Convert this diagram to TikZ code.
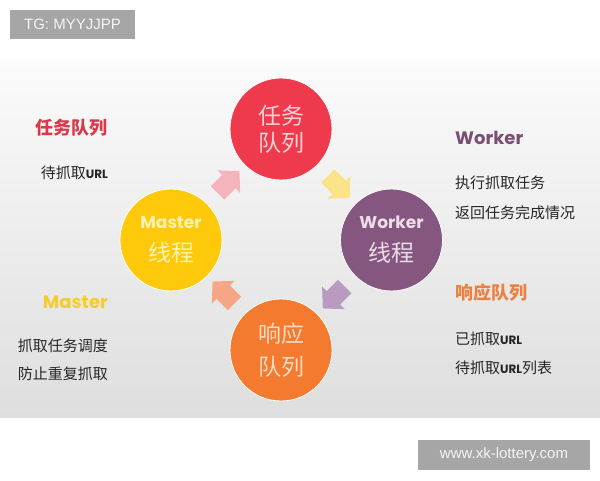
\documentclass[tikz,border=0pt]{standalone}
\usepackage{fontspec}
\setmainfont{Noto Sans CJK SC}
\newfontfamily\geo{Poppins}
\newfontfamily\lib{Liberation Sans}
\usetikzlibrary{calc}
\definecolor{cRed}{HTML}{EE3A4C}
\definecolor{cYel}{HTML}{FDC90A}
\definecolor{cPur}{HTML}{85567F}
\definecolor{cOra}{HTML}{F47A30}
\definecolor{tRed}{HTML}{FAD3D7}
\definecolor{tYel}{HTML}{FFF2B0}
\definecolor{tPur}{HTML}{EBDDE9}
\definecolor{tOra}{HTML}{FDDCC2}
\definecolor{aPink}{HTML}{F5B3BC}
\definecolor{aYel}{HTML}{FBE38A}
\definecolor{aLav}{HTML}{B89BBE}
\definecolor{aSal}{HTML}{F5A685}
\definecolor{hRed}{HTML}{D93A4A}
\definecolor{hYel}{HTML}{F5CC30}
\definecolor{hPur}{HTML}{7B4F73}
\definecolor{hOra}{HTML}{EC8040}
\definecolor{bgTop}{HTML}{FBFBFB}
\definecolor{bgBot}{HTML}{DEDEDE}
\definecolor{tagGray}{HTML}{A6A6A6}
\begin{document}
\begin{tikzpicture}[x=1pt,y=1pt,
  circ/.style={circle,minimum size=102pt,inner sep=0pt,draw=white,line width=0.8pt,align=center},
  ctext/.style={font=\fontsize{23}{33}\selectfont},
  head/.style={inner sep=0pt,font=\fontsize{18}{20}\selectfont\bfseries},
  body/.style={inner sep=0pt,font=\fontsize{15}{18}\selectfont,text=black!85},
  tag/.style={fill=tagGray,text=white!96!black,font=\lib\fontsize{15}{17}\selectfont,inner sep=0pt},
  blockarr/.pic={\fill (-12,-9.5) -- (4,-9.5) -- (4,-16) -- (19,0) -- (4,16) -- (4,9.5) -- (-12,9.5) -- cycle;}
]
\useasboundingbox (0,0) rectangle (600,480);
\fill[white] (0,0) rectangle (600,480);
\shade[top color=bgTop,bottom color=bgBot] (0,63) rectangle (600,419);

% circles
\node[circ,fill=cRed,text=tRed,font=\fontsize{23}{27}\selectfont] (tq) at (281,351) {任务\\队列};
\node[circ,fill=cYel,text=tYel,ctext] (ms) at (171,240) {{\geo\bfseries\fontsize{17}{20}\selectfont Master}\\线程};
\node[circ,fill=cPur,text=tPur,ctext] (wk) at (391.5,240) {{\geo\bfseries\fontsize{17}{20}\selectfont Worker}\\线程};
\node[circ,fill=cOra,text=tOra,ctext] (rq) at (281,130) {响应\\队列};

% block arrows
\pic[fill=aPink,rotate=45] at ($(ms)!0.5!(tq)$) {blockarr};
\pic[fill=aYel,rotate=-45] at ($(tq)!0.5!(wk)$) {blockarr};
\pic[fill=aLav,rotate=-135] at ($(wk)!0.5!(rq)$) {blockarr};
\pic[fill=aSal,rotate=135] at ($(rq)!0.5!(ms)$) {blockarr};

% left column
\node[head,text=hRed,anchor=east] (l1) at (108,352) {任务队列};
\node[body,anchor=east] (l2) at (108,307) {待抓取{\geo\bfseries\fontsize{12}{14}\selectfont URL}};
\node[head,text=hYel,anchor=east] (l3) at (108,178) {\geo\bfseries Master};
\node[body,anchor=east] (l4) at (108,134) {抓取任务调度};
\node[body,anchor=east] (l5) at (108,106) {防止重复抓取};

% right column
\node[head,text=hPur,anchor=west] (r1) at (455,342) {\geo\bfseries Worker};
\node[body,anchor=west] (r2) at (455,297) {执行抓取任务};
\node[body,anchor=west] (r3) at (455,267) {返回任务完成情况};
\node[head,text=hOra,anchor=west] (r4) at (455,187) {响应队列};
\node[body,anchor=west] (r5) at (455,141) {已抓取{\geo\bfseries\fontsize{12}{14}\selectfont URL}};
\node[body,anchor=west] (r6) at (455,112) {待抓取{\geo\bfseries\fontsize{12}{14}\selectfont URL}列表};

% tags
\node[tag,minimum width=125pt,minimum height=29pt] (tg) at (72.5,455.5) {TG: MYYJJPP};
\node[tag,minimum width=172pt,minimum height=30pt] (www) at (504,25) {www.xk-lottery.com};
\end{tikzpicture}
\end{document}
